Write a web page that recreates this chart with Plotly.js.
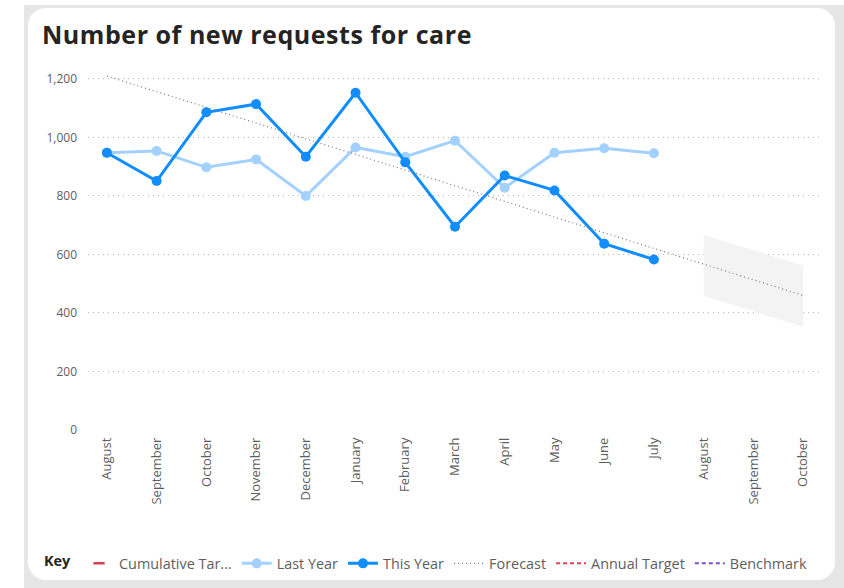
<!DOCTYPE html>
<html>
<head>
<meta charset="utf-8">
<script src="https://cdn.plot.ly/plotly-3.0.1.min.js"></script>
<style>
  html, body { margin: 0; padding: 0; background: #ffffff; width: 844px; height: 588px; overflow: hidden; }
  #frame { position: absolute; left: 24px; top: 5px; width: 820px; height: 583px; background: #e6e6e6; }
  #card { position: absolute; left: 28px; top: 8px; width: 807px; height: 572px; background: #ffffff; border-radius: 18px; }
  #chart { position: absolute; left: 0; top: 0; width: 844px; height: 588px; }
  #chart .gtitle { letter-spacing: 0.55px; }
</style>
</head>
<body>
<div id="frame"></div>
<div id="card"></div>
<div id="chart"></div>
<script>
// ---- data ----
const monthLabels = ["August", "September", "October", "November", "December", "January", "February",
                     "March", "April", "May", "June", "July", "August", "September", "October"];
const monthIndex = [0, 1, 2, 3, 4, 5, 6, 7, 8, 9, 10, 11, 12, 13, 14];

const actualIndex = [0, 1, 2, 3, 4, 5, 6, 7, 8, 9, 10, 11];
const lastYear = [948, 954, 898, 925, 800, 966, 934, 989, 828, 948, 963, 946];
const thisYear = [948, 851, 1086, 1114, 934, 1153, 915, 695, 870, 819, 637, 583];

const forecastIndex = [0, 14];
const forecast = [1210, 460];

const bandIndex = [12, 13, 14];
const bandUpper = [667, 615, 562];
const bandLower = [459, 406, 353];

const yTicks = [0, 200, 400, 600, 800, 1000, 1200];
const yTickText = ["0", "200", "400", "600", "800", "1,000", "1,200"];

// ---- traces ----
const traces = [
  { x: bandIndex, y: bandLower, mode: "lines", line: { width: 0 }, showlegend: false, hoverinfo: "skip" },
  { x: bandIndex, y: bandUpper, mode: "lines", line: { width: 0 }, fill: "tonexty",
    fillcolor: "#f3f3f3", showlegend: false, hoverinfo: "skip" },
  { x: [null], y: [null], name: "Cumulative Tar...", mode: "markers",
    marker: { symbol: "line-ew", size: 8, line: { width: 2.5, color: "#d9434f" } } },
  { x: actualIndex, y: lastYear, name: "Last Year", mode: "lines+markers",
    line: { color: "#a3d1ff", width: 3 }, marker: { color: "#a3d1ff", size: 10 } },
  { x: actualIndex, y: thisYear, name: "This Year", mode: "lines+markers",
    line: { color: "#118dff", width: 3 }, marker: { color: "#118dff", size: 10 } },
  { x: forecastIndex, y: forecast, name: "Forecast", mode: "lines",
    line: { color: "#7a7a7a", width: 1.2, dash: "1px,3px" } },
  { x: [null], y: [null], name: "Annual Target", mode: "lines",
    line: { color: "#e0434f", width: 2, dash: "4px,3px" } },
  { x: [null], y: [null], name: "Benchmark", mode: "lines",
    line: { color: "#7a4fd0", width: 2, dash: "4px,3px" } }
];

const layout = {
  width: 844, height: 588,
  paper_bgcolor: "rgba(0,0,0,0)",
  plot_bgcolor: "rgba(0,0,0,0)",
  margin: { l: 88, r: 24, t: 62, b: 158 },
  font: { family: "Open Sans, sans-serif", color: "#605e5c" },
  title: {
    text: "<b>Number of new requests for care</b>",
    font: { family: "Open Sans, sans-serif", size: 25, color: "#252423" },
    x: 42 / 844, xanchor: "left", xref: "container",
    y: 1 - 35 / 588, yanchor: "middle", yref: "container"
  },
  xaxis: {
    type: "linear",
    range: [-0.38, 14.34],
    tickmode: "array", tickvals: monthIndex, ticktext: monthLabels,
    tickangle: -90,
    tickfont: { size: 13, color: "#605e5c" },
    showgrid: false, zeroline: false, showline: false, ticks: "",
    ticklabelstandoff: 4
  },
  yaxis: {
    range: [0, 1258],
    tickmode: "array", tickvals: yTicks, ticktext: yTickText,
    tickfont: { size: 12, color: "#605e5c" },
    showgrid: true, gridcolor: "#b8b8b8", griddash: "1px,4px", gridwidth: 1,
    zeroline: false, showline: false, ticks: "",
    ticklabelstandoff: 10
  },
  showlegend: true,
  legend: {
    orientation: "h",
    xref: "container", yref: "container",
    x: 42 / 844, xanchor: "left",
    y: (588 - 563.5) / 588, yanchor: "middle",
    font: { size: 14.4, color: "#605e5c" },
    title: { text: "<b>Key</b>", side: "left", font: { size: 14.4, color: "#252423" } },
    bgcolor: "rgba(0,0,0,0)",
    traceorder: "normal"
  },
  hovermode: false
};

Plotly.newPlot("chart", traces, layout, { displayModeBar: false, staticPlot: true });
</script>
</body>
</html>
